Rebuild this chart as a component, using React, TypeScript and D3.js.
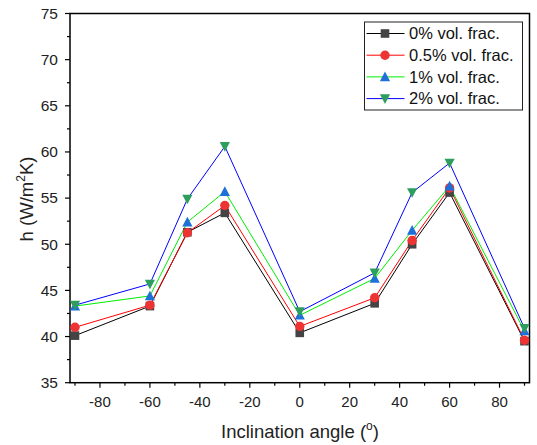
import React from "react";
import * as d3 from "d3";

const angles = [-90, -60, -45, -30, 0, 30, 45, 60, 90];
const frac0 = [40.1, 43.3, 51.3, 53.4, 40.4, 43.6, 50.0, 55.6, 39.5];
const frac05 = [41.0, 43.4, 51.25, 54.2, 41.1, 44.2, 50.4, 56.1, 39.6];
const frac1 = [43.3, 44.4, 52.4, 55.7, 42.3, 46.3, 51.5, 56.3, 40.6];
const frac2 = [43.4, 45.7, 54.9, 60.6, 42.7, 46.9, 55.6, 58.8, 40.9];
const seriesNames = ["0% vol. frac.", "0.5% vol. frac.", "1% vol. frac.", "2% vol. frac."];
const xTicks = [-80, -60, -40, -20, 0, 20, 40, 60, 80];
const yTicks = [35, 40, 45, 50, 55, 60, 65, 70, 75];

const series = [
  { name: seriesNames[0], values: frac0, line: "#000000", fill: "#444444", shape: "square" },
  { name: seriesNames[1], values: frac05, line: "#ff0000", fill: "#ee3333", shape: "circle" },
  { name: seriesNames[2], values: frac1, line: "#00ee00", fill: "#1f6fd8", shape: "up" },
  { name: seriesNames[3], values: frac2, line: "#0000ff", fill: "#2e9e5e", shape: "down" },
];

const L = 70, R = 529.5, T = 13.5, B = 382.7;
const x = d3.scaleLinear().domain([-92, 92]).range([L, R]);
const y = d3.scaleLinear().domain([35, 75]).range([B, T]);
const FONT = "'Liberation Sans', Arial, sans-serif";

function Marker({ shape, cx, cy, fill }: { shape: string; cx: number; cy: number; fill: string }) {
  const s = 4.3;
  if (shape === "square") return <rect x={cx - s} y={cy - s} width={2 * s} height={2 * s} fill={fill} />;
  if (shape === "circle") return <circle cx={cx} cy={cy} r={s + 0.4} fill={fill} />;
  if (shape === "up")
    return <path d={`M${cx},${cy - s - 1} L${cx + s + 0.8},${cy + s} L${cx - s - 0.8},${cy + s} Z`} fill={fill} />;
  return <path d={`M${cx},${cy + s + 1} L${cx + s + 0.8},${cy - s} L${cx - s - 0.8},${cy - s} Z`} fill={fill} />;
}

export default function App() {
  const line = d3
    .line<number>()
    .x((_, i) => x(angles[i]))
    .y((v) => y(v));
  const xMinor = d3.range(-90, 91, 10);
  const yMinor = d3.range(35, 75.1, 2.5);
  const legX = 364.5, legY = 22, legW = 158, legH = 88;
  return (
    <svg width={537} height={445} style={{ position: "absolute", left: 0, top: 0, background: "#fff" }} fontFamily={FONT}>
      <rect x={0} y={0} width={537} height={445} fill="#fff" />
      {/* frame */}
      <rect x={L} y={T} width={R - L} height={B - T} fill="none" stroke="#000" strokeWidth={1.5} />
      {/* x ticks */}
      {xMinor.map((t) => (
        <line key={"xm" + t} x1={x(t)} x2={x(t)} y1={B} y2={B + (t % 20 === 0 ? 5 : 3)} stroke="#000" strokeWidth={1.2} />
      ))}
      {xTicks.map((t) => (
        <text key={"xt" + t} x={x(t)} y={406.5} textAnchor="middle" fontSize={15} fill="#222">
          {t}
        </text>
      ))}
      {/* y ticks */}
      {yMinor.map((t) => (
        <line key={"ym" + t} x1={L} x2={L - (t % 5 === 0 ? 5 : 3)} y1={y(t)} y2={y(t)} stroke="#000" strokeWidth={1.2} />
      ))}
      {yTicks.map((t) => (
        <text key={"yt" + t} x={58} y={y(t) + 5.3} textAnchor="end" fontSize={15.5} fill="#222">
          {t}
        </text>
      ))}
      {/* axis titles */}
      <text x={300} y={438} textAnchor="middle" fontSize={18.5} fill="#222">
        Inclination angle (<tspan dy={-8} fontSize={12}>o</tspan>
        <tspan dy={8}>)</tspan>
      </text>
      <text transform={`translate(33,199) rotate(-90)`} textAnchor="middle" fontSize={18.5} fill="#222">
        h (W/m<tspan dy={-8} fontSize={12}>2</tspan>
        <tspan dy={8}>K)</tspan>
      </text>
      {/* series */}
      {series.map((s) => (
        <path key={"l" + s.name} d={line(s.values) || ""} fill="none" stroke={s.line} strokeWidth={1} />
      ))}
      {series.map((s) => (
        <g key={"m" + s.name}>
          {s.values.map((v, i) => (
            <Marker key={i} shape={s.shape} cx={x(angles[i])} cy={y(v)} fill={s.fill} />
          ))}
        </g>
      ))}
      {/* legend */}
      <rect x={legX} y={legY} width={legW} height={legH} fill="#fff" stroke="#222" strokeWidth={1} />
      {series.map((s, i) => {
        const cy = 33.5 + i * 21.7;
        return (
          <g key={"lg" + s.name}>
            <line x1={legX + 2} x2={legX + 40} y1={cy} y2={cy} stroke={s.line} strokeWidth={1} />
            <Marker shape={s.shape} cx={385} cy={cy} fill={s.fill} />
            <text x={409} y={cy + 5.8} fontSize={16.5} fill="#111">
              {s.name}
            </text>
          </g>
        );
      })}
    </svg>
  );
}
